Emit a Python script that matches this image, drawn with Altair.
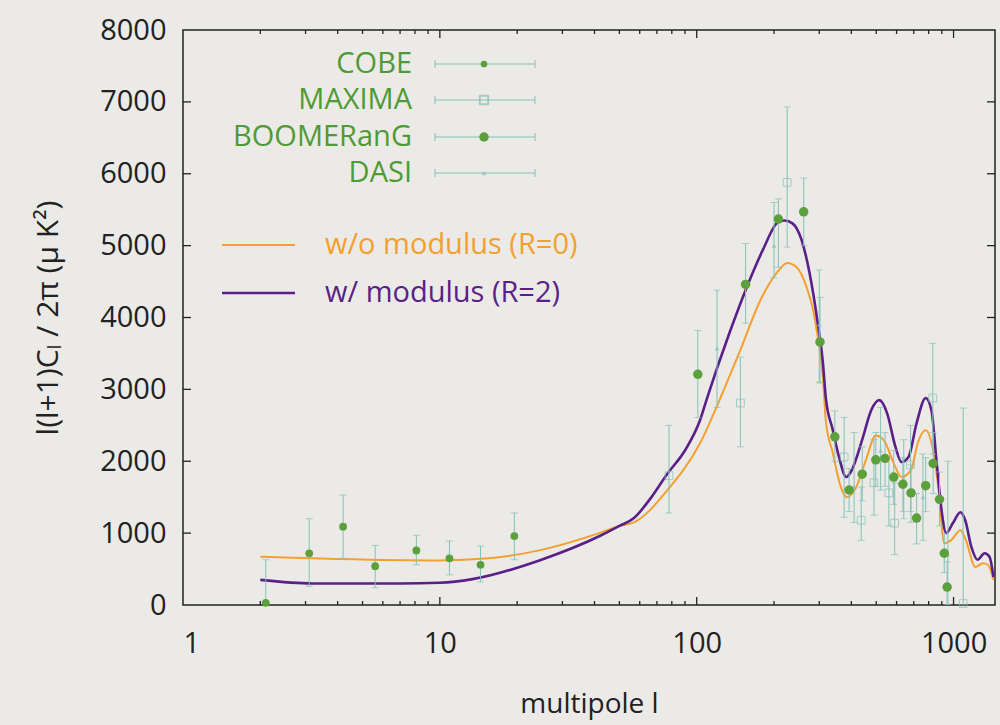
import altair as alt
import pandas as pd

W, H = 812, 575
FONT = "Open Sans"

# ---------------- model curves ----------------
l_r2 = [2, 3.2, 5, 7, 10, 13.4, 24.4, 42.5, 50, 57, 66, 77, 90, 103, 110, 134, 155, 181, 208, 220,
        236, 256, 275, 296, 310, 318, 339, 358, 382, 402, 441, 478, 514, 551, 594, 627, 668, 718,
        779, 820, 860, 895, 936, 994, 1064, 1110, 1173, 1240, 1320, 1380, 1430]
v_r2 = [350, 300, 300, 300, 310, 360, 620, 970, 1100, 1210, 1480, 1830, 2150, 2570, 2890, 3780, 4380,
        4940, 5330, 5350, 5310, 5080, 4620, 3920, 3370, 2890, 2430, 2060, 1780, 1880, 2300, 2710,
        2850, 2670, 2200, 1990, 2060, 2530, 2880, 2710, 1970, 1360, 1000, 1140, 1290, 1180, 810,
        630, 720, 670, 390]

l_r0 = [2, 4, 10, 15.5, 24.4, 42.5, 50, 57, 77, 103, 124, 148, 177, 206, 225, 245, 268, 284, 296,
        310, 318, 339, 364, 385, 418, 456, 498, 536, 585, 627, 683, 728, 779, 827, 875, 920, 977,
        1064, 1117, 1216, 1300, 1360, 1430]
v_r0 = [670, 640, 620, 650, 760, 1010, 1100, 1150, 1600, 2250, 2890, 3550, 4240, 4630, 4760, 4700,
        4420, 4100, 3730, 3170, 2570, 2110, 1640, 1500, 1640, 2020, 2360, 2290, 1970, 1780, 1880,
        2270, 2430, 2200, 1600, 860, 900, 1040, 900, 530, 580, 560, 350]

# ---------------- data points (l, value, low, high) ----------------
cobe_l = [2.1, 3.1, 4.2, 5.6, 8.1, 10.9, 14.4, 19.5]
cobe_v = [30, 720, 1090, 540, 760, 650, 560, 960]
cobe_lo = [0, 260, 650, 240, 560, 420, 320, 630]
cobe_hi = [630, 1200, 1530, 830, 970, 890, 820, 1280]

maxima_l = [78, 148, 225, 375, 437, 490, 560, 590, 680, 830, 1090]
maxima_v = [1800, 2810, 5880, 2060, 1180, 1700, 1560, 1140, 1950, 2880, 20]
maxima_lo = [1280, 2200, 4980, 1220, 900, 1250, 1100, 700, 1300, 2100, 0]
maxima_hi = [2500, 3450, 6930, 2610, 1640, 2300, 2050, 1700, 2500, 3640, 2740]

boom_l = [101, 155, 208, 261, 302, 345, 392, 441, 498, 541, 585, 635, 683, 718, 779, 833, 882, 920, 944]
boom_v = [3210, 4460, 5370, 5470, 3660, 2340, 1600, 1820, 2020, 2040, 1780, 1680, 1560, 1210, 1660,
          1970, 1470, 720, 250]
boom_lo = [2610, 3920, 4700, 5000, 3090, 2000, 1300, 1450, 1650, 1650, 1400, 1300, 1150, 850, 1300,
           1550, 1100, 450, 0]
boom_hi = [3820, 5030, 5650, 5940, 4280, 2700, 1900, 2200, 2400, 2400, 2150, 2050, 1950, 1550, 2050,
           2400, 1850, 1000, 600]

dasi_l = [120, 200, 300, 410, 520, 640, 760, 950]
dasi_v = [3570, 5000, 3900, 1650, 2150, 1750, 1500, 700]
dasi_lo = [2750, 4550, 3100, 1150, 1600, 1200, 900, 0]
dasi_hi = [4380, 5600, 4660, 2400, 2750, 2300, 2100, 2000]

# ---------------- axis / tick values ----------------
x_major = [1, 10, 100, 1000]
x_minor = [2, 3, 4, 5, 6, 7, 8, 9, 20, 30, 40, 50, 60, 70, 80, 90, 200, 300, 400, 500, 600, 700, 800, 900]
y_major = [0, 1000, 2000, 3000, 4000, 5000, 6000, 7000, 8000]
y_inner = [1000, 2000, 3000, 4000, 5000, 6000, 7000]

data_labels = ["COBE", "MAXIMA", "BOOMERanG", "DASI"]
model_labels = ["w/o modulus (R=0)", "w/ modulus (R=2)"]
y_title = "l(l+1)Cₗ / 2π (μ K²)"
x_title = "multipole l"

ORANGE = "#f4a030"
PURPLE = "#5a1f88"
GREEN = "#5ba03a"
TEAL = "#86c0b6"
TXT_GREEN = "#4f9a35"

xs = alt.Scale(type="log", domain=[1, 1450], nice=False)
ys = alt.Scale(domain=[0, 8000], nice=False)

AX = alt.Axis(values=x_major, format="d", ticks=False, domain=False, grid=False,
              labelFont=FONT, labelFontSize=29, labelColor="#222", labelPadding=24,
              titleFont=FONT, titleFontSize=28,
              titleFontWeight="normal", titleColor="#222", titlePadding=32)
AY = alt.Axis(values=y_major, format="d", ticks=False, domain=False, grid=False,
              labelFont=FONT, labelFontSize=29, labelColor="#222", labelPadding=17,
              titleFont=FONT, titleFontSize=30,
              titleFontWeight="normal", titleColor="#222", titlePadding=36)

X = alt.X("l:Q", scale=xs, title=x_title, axis=AX)
Y = alt.Y("v:Q", scale=ys, title=y_title, axis=AY)

curves = pd.concat([
    pd.DataFrame({"l": l_r0, "v": v_r0, "model": model_labels[0]}),
    pd.DataFrame({"l": l_r2, "v": v_r2, "model": model_labels[1]}),
])

def pts(l, v, lo, hi):
    return pd.DataFrame({"l": l, "v": v, "lo": lo, "hi": hi})

cobe = pts(cobe_l, cobe_v, cobe_lo, cobe_hi)
maxima = pts(maxima_l, maxima_v, maxima_lo, maxima_hi)
boom = pts(boom_l, boom_v, boom_lo, boom_hi)
dasi = pts(dasi_l, dasi_v, dasi_lo, dasi_hi)

lines = alt.Chart(curves).mark_line(interpolate="monotone", clip=True).encode(
    x=X, y=Y,
    color=alt.Color("model:N", scale=alt.Scale(domain=model_labels, range=[ORANGE, PURPLE]), legend=None),
    strokeWidth=alt.StrokeWidth("model:N", scale=alt.Scale(domain=model_labels, range=[2, 2.6]), legend=None),
)

def errbars(df):
    return alt.Chart(df).mark_errorbar(ticks=True, size=7, thickness=1, color=TEAL, clip=True).encode(
        x=X, y=alt.Y("lo:Q", scale=ys, title=y_title, axis=AY), y2="hi:Q")

cobe_pts = alt.Chart(cobe).mark_circle(size=60, color=GREEN, opacity=1).encode(x=X, y=Y)
maxima_pts = alt.Chart(maxima).mark_point(shape="square", size=60, color=TEAL, strokeWidth=1, filled=False).encode(x=X, y=Y)
boom_pts = alt.Chart(boom).mark_circle(size=90, color=GREEN, opacity=1).encode(x=X, y=Y)
dasi_pts = alt.Chart(dasi).mark_point(shape="triangle-up", size=25, color=TEAL, filled=True).encode(x=X, y=Y)

# ---------------- frame ticks (inward, mirrored) ----------------
xmaj = pd.DataFrame({"l": x_major[1:]})
xmin = pd.DataFrame({"l": x_minor})
yin = pd.DataFrame({"v": y_inner})
TICK = "#222"

def xticks(df, length):
    b = alt.Chart(df).mark_rule(color=TICK, strokeWidth=1.3).encode(x=X, y=alt.value(H), y2=alt.value(H - length))
    t = alt.Chart(df).mark_rule(color=TICK, strokeWidth=1.3).encode(x=X, y=alt.value(0), y2=alt.value(length))
    return b + t

yt_l = alt.Chart(yin).mark_rule(color=TICK, strokeWidth=1.3).encode(y=Y, x=alt.value(0), x2=alt.value(8))
yt_r = alt.Chart(yin).mark_rule(color=TICK, strokeWidth=1.3).encode(y=Y, x=alt.value(W), x2=alt.value(W - 8))

# ---------------- legend (drawn in-plot) ----------------
one = pd.DataFrame({"k": [0]})
leg_y = [34, 70, 107, 143]
legend_layers = []
for i, lab in enumerate(data_labels):
    yy = leg_y[i]
    legend_layers.append(alt.Chart(pd.DataFrame({"t": [lab]})).mark_text(
        align="right", baseline="middle", font=FONT, fontSize=29, color=TXT_GREEN).encode(
        text="t:N", x=alt.value(229), y=alt.value(yy)))
    legend_layers.append(alt.Chart(one).mark_rule(color=TEAL, strokeWidth=1).encode(
        x=alt.value(252), x2=alt.value(352), y=alt.value(yy)))
    legend_layers.append(alt.Chart(one).mark_rule(color=TEAL, strokeWidth=1).encode(
        x=alt.value(252), y=alt.value(yy - 4), y2=alt.value(yy + 4)))
    legend_layers.append(alt.Chart(one).mark_rule(color=TEAL, strokeWidth=1).encode(
        x=alt.value(352), y=alt.value(yy - 4), y2=alt.value(yy + 4)))

legend_layers.append(alt.Chart(one).mark_circle(size=45, color=GREEN, opacity=1).encode(
    x=alt.value(301), y=alt.value(leg_y[0])))
legend_layers.append(alt.Chart(one).mark_point(shape="square", size=70, color=TEAL, filled=False).encode(
    x=alt.value(301), y=alt.value(leg_y[1])))
legend_layers.append(alt.Chart(one).mark_circle(size=90, color=GREEN, opacity=1).encode(
    x=alt.value(301), y=alt.value(leg_y[2])))
legend_layers.append(alt.Chart(one).mark_point(shape="triangle-up", size=25, color=TEAL, filled=True).encode(
    x=alt.value(301), y=alt.value(leg_y[3])))

for lab, col, yy, sw in [(model_labels[0], ORANGE, 215, 2), (model_labels[1], PURPLE, 263, 2.6)]:
    legend_layers.append(alt.Chart(one).mark_rule(color=col, strokeWidth=sw).encode(
        x=alt.value(39), x2=alt.value(112), y=alt.value(yy)))
    legend_layers.append(alt.Chart(pd.DataFrame({"t": [lab]})).mark_text(
        align="left", baseline="middle", font=FONT, fontSize=29, color=col).encode(
        text="t:N", x=alt.value(142), y=alt.value(yy)))

chart = alt.layer(
    lines,
    errbars(cobe), errbars(maxima), errbars(boom), errbars(dasi),
    maxima_pts, dasi_pts, cobe_pts, boom_pts,
    xticks(xmaj, 8), xticks(xmin, 4), yt_l, yt_r,
    *legend_layers,
).properties(
    width=W, height=H,
    background="#ebeae7",
    padding={"left": 183, "top": 30, "right": 5, "bottom": 120},
    autosize=alt.AutoSizeParams(type="none"),
).configure_view(stroke="#222", strokeWidth=1.5)

chart.save("out.html", embed_options={"renderer": "svg", "actions": False})
